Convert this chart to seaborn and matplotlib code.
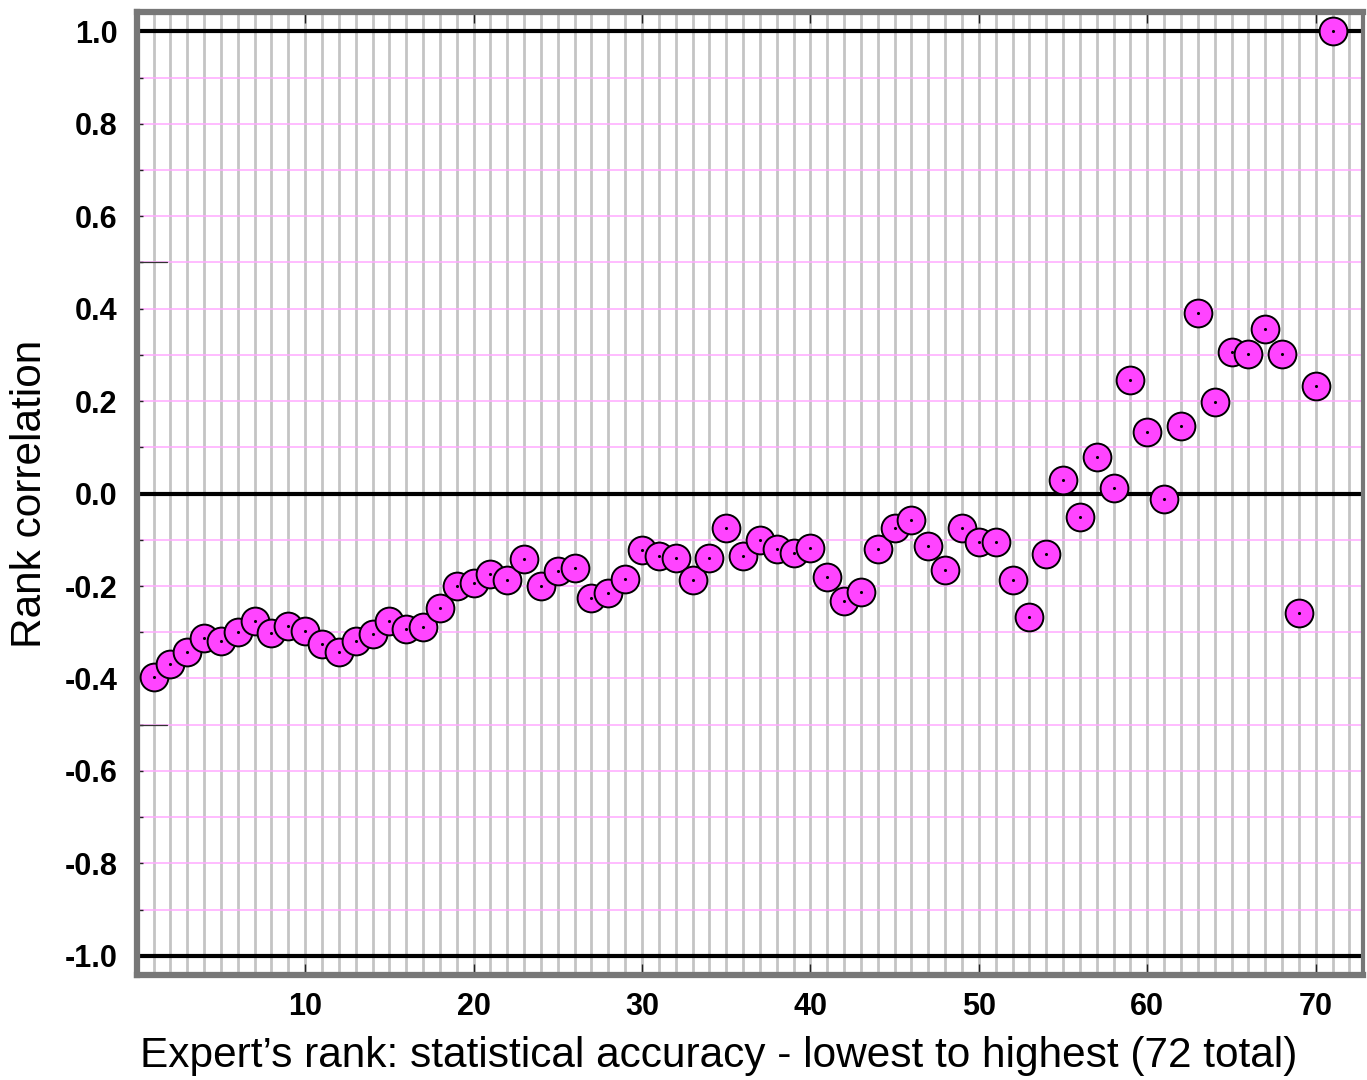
import matplotlib.pyplot as plt
import numpy as np
import pandas as pd
import seaborn as sns

# expert rank (1 = lowest statistical accuracy) and rank correlation
ranks = np.arange(1, 72)
rank_corr = [-0.396, -0.368, -0.342, -0.312, -0.318, -0.299, -0.275, -0.301, -0.286, -0.297,
             -0.325, -0.342, -0.318, -0.303, -0.275, -0.292, -0.288, -0.247, -0.199, -0.193,
             -0.173, -0.188, -0.141, -0.201, -0.167, -0.160, -0.225, -0.216, -0.184, -0.123,
             -0.134, -0.139, -0.186, -0.139, -0.074, -0.134, -0.100, -0.121, -0.128, -0.117,
             -0.180, -0.232, -0.212, -0.119, -0.074, -0.058, -0.113, -0.165, -0.074, -0.104,
             -0.104, -0.188, -0.268, -0.130, 0.030, -0.050, 0.080, 0.013, 0.245, 0.134,
             -0.011, 0.147, 0.390, 0.199, 0.307, 0.301, 0.357, 0.301, -0.258, 0.232,
             1.000]
xticks = [10, 20, 30, 40, 50, 60, 70]
yticks = [-1.0, -0.8, -0.6, -0.4, -0.2, 0.0, 0.2, 0.4, 0.6, 0.8, 1.0]

df = pd.DataFrame({"rank": ranks, "corr": rank_corr})

sns.set_style("white")
plt.rcParams['font.family'] = ['Liberation Sans', 'DejaVu Sans']
plt.rcParams['text.color'] = 'black'
plt.rcParams['axes.labelcolor'] = 'black'
plt.rcParams['xtick.color'] = 'black'
plt.rcParams['ytick.color'] = 'black'

fig, ax = plt.subplots(figsize=(13.67, 10.8), dpi=100)
fig.subplots_adjust(left=0.1, right=0.997, top=0.989, bottom=0.097)

# grid: gray verticals at each rank, pink horizontals every 0.1
for xv in np.arange(1, 73):
    ax.axvline(xv, color='#c4c4c4', lw=2.0, zorder=0)
for yv in np.arange(-10, 11):
    if yv % 10 != 0:
        ax.axhline(yv / 10, color='#ffaaff', lw=1.1, zorder=0)
for yv in [-1.0, 0.0, 1.0]:
    ax.axhline(yv, color='black', lw=3.0, zorder=1)
for yv in [-0.5, 0.5]:
    ax.axhline(yv, xmin=0, xmax=0.025, color='#333333', lw=0.9, zorder=1)

sns.scatterplot(data=df, x="rank", y="corr", ax=ax, s=400, color='#ff44ff',
                edgecolor='black', linewidth=1.4, zorder=3, legend=False)
sns.scatterplot(data=df, x="rank", y="corr", ax=ax, s=5, color='black',
                linewidth=0, zorder=4, legend=False)

ax.set_xlim(0, 72.8)
ax.set_ylim(-1.042, 1.042)
ax.set_xticks(xticks)
ax.set_xticklabels([str(t) for t in xticks], fontsize=22, fontweight='bold')
ax.set_yticks(yticks)
ax.set_yticklabels([f"{t:.1f}" for t in yticks], fontsize=22, fontweight='bold')
ax.set_yticks(np.arange(-0.9, 1.0, 0.2), minor=True)
ax.tick_params(axis='x', which='major', direction='in', length=8, width=1,
               top=True, bottom=True, pad=12, color='#222222')
ax.tick_params(axis='y', which='both', direction='in', length=4, width=1,
               left=True, pad=14, color='#222222')

for side in ['left', 'top', 'bottom']:
    ax.spines[side].set_color('#777777')
    ax.spines[side].set_linewidth(4.5)
ax.spines['right'].set_color('#777777')
ax.spines['right'].set_linewidth(3)

ax.set_xlabel("Expert’s rank: statistical accuracy - lowest to highest (72 total)",
              fontsize=30.5)
ax.xaxis.set_label_coords(0.475, -0.063)
ax.set_ylabel("Rank correlation", fontsize=30.5, labelpad=10)

plt.savefig("out.png", dpi=100)
